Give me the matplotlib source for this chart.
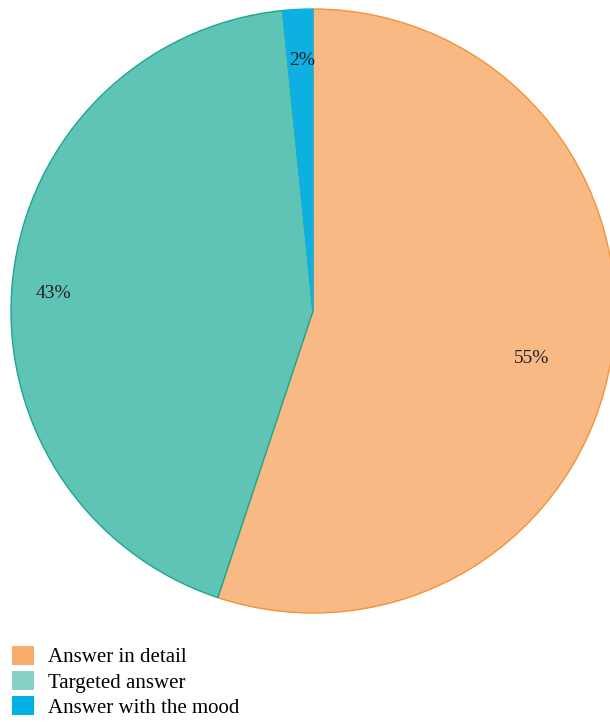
import numpy as np
import matplotlib.pyplot as plt
from matplotlib.patches import Patch

# shares of each answer type (percent)
labels = ['Answer in detail', 'Targeted answer', 'Answer with the mood']
values = [55.1, 43.3, 1.6]
fill_colors = ['#F9B984', '#5FC3B5', '#0DB0E0']
edge_colors = ['#F39237', '#1AA88F', '#0DB0E0']
legend_colors = ['#F8AC6C', '#88D0C5', '#00B1E3']
label_dist = [0.74, 0.86, 0.83]
label_shift = [-3.0, 2.5, -0.3]  # degrees

plt.rcParams['font.family'] = ['Liberation Serif', 'DejaVu Serif']

fig = plt.figure(figsize=(6.1, 7.22), dpi=100)
ax = fig.add_axes([11 / 610, 109 / 722, 604 / 610, 604 / 722])

wedges, texts, autotexts = ax.pie(values, colors=fill_colors, startangle=90,
                                  counterclock=False, autopct='%.0f%%',
                                  textprops={'fontsize': 14, 'color': '#222222'},
                                  wedgeprops={'linewidth': 1.0})
for w, ec in zip(wedges, edge_colors):
    w.set_edgecolor(ec)
    w.set_clip_on(False)

# move percentage labels to their own radial distances
for w, t, d, s in zip(wedges, autotexts, label_dist, label_shift):
    ang = np.deg2rad((w.theta1 + w.theta2) / 2 + s)
    t.set_position((d * np.cos(ang), d * np.sin(ang)))

ax.set_aspect('equal')
ax.set_xlim(-1, 1)
ax.set_ylim(-1, 1)
ax.axis('off')

handles = [Patch(facecolor=c, edgecolor='none') for c in legend_colors]
fig.legend(handles, labels, loc='lower left', bbox_to_anchor=(8 / 610, 0.0),
           frameon=False, fontsize=15, handlelength=1.06, handleheight=1.06,
           handletextpad=0.67, labelspacing=0.16, borderpad=0.2,
           borderaxespad=0.0)

fig.savefig('out.png', dpi=100)
